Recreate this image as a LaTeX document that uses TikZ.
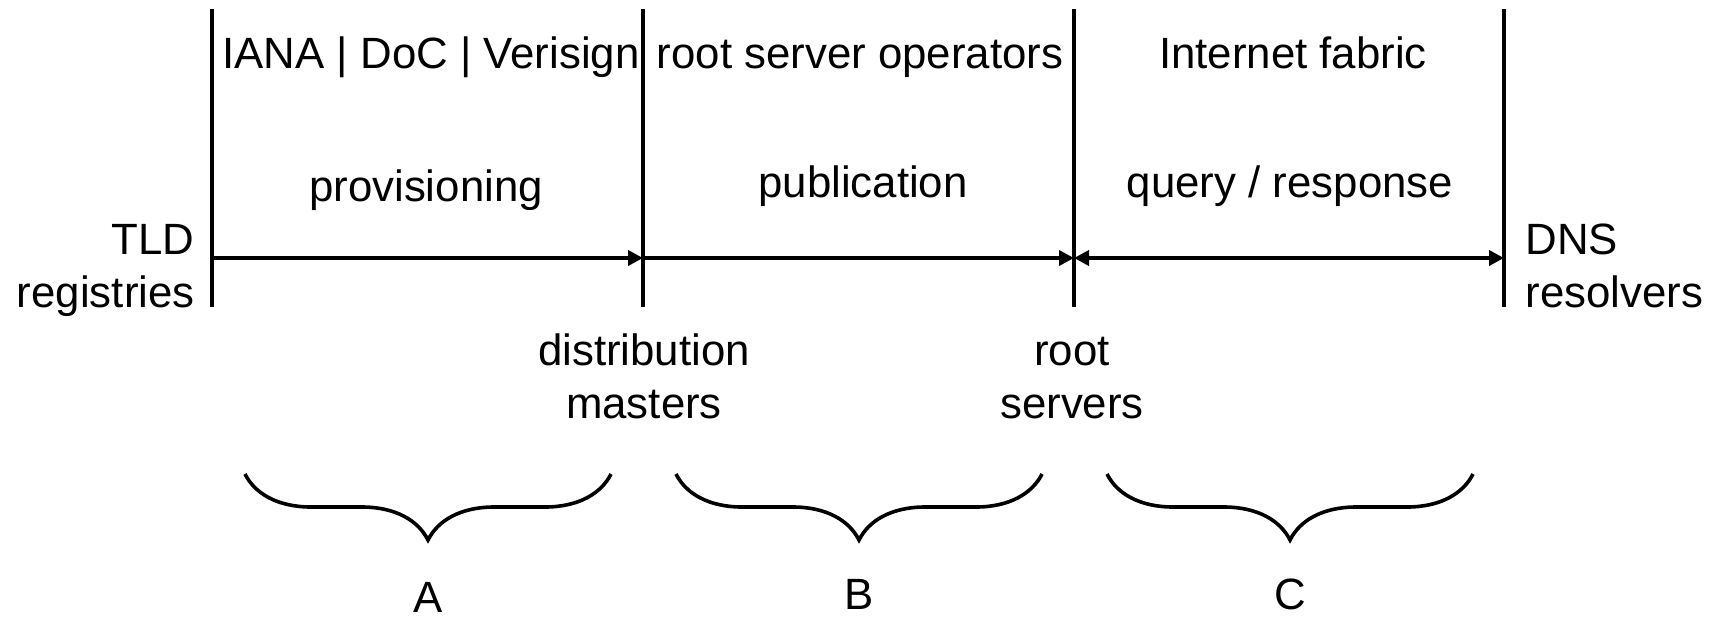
\documentclass[tikz,border=0pt]{standalone}
\usepackage{fontspec}
\setmainfont{Liberation Sans}
\usetikzlibrary{arrows.meta,decorations.pathreplacing}

\begin{document}
\begin{tikzpicture}[x=0.5pt,y=-0.5pt,
    >={Triangle[length=7.5pt,width=7.5pt]},
    lbl/.style={font=\fontsize{21.9}{26.3}\selectfont,inner sep=0pt,anchor=base},
    stage/.style={line width=1.8pt},
    flow/.style={line width=1.8pt},
    bracket/.style={line width=1.8pt,decorate,decoration={brace,mirror,amplitude=33pt}}
  ]
  \useasboundingbox (0,0) rectangle (1719,618);
  \foreach \n/\x in {tld/212,dm/643,rs/1074,dns/1504} {
    \coordinate (\n-t) at (\x,9);
    \coordinate (\n-a) at (\x,258);
    \coordinate (\n-b) at (\x,307);
    \draw[stage] (\n-t) -- (\n-b);
  }
  \draw[flow,->] (tld-a) -- (dm-a);
  \draw[flow,->] (dm-a) -- (rs-a);
  \draw[flow,<->] (rs-a) -- (dns-a);

  \node[lbl] (who1) at (431,68) {IANA | DoC | Verisign};
  \node[lbl] (who2) at (860,68) {root server operators};
  \node[lbl] (who3) at (1293,68) {Internet fabric};
  \node[lbl] (what1) at (426,201) {provisioning};
  \node[lbl] (what2) at (863,197) {publication};
  \node[lbl] (what3) at (1290,197) {query / response};

  \node[lbl,anchor=base east,align=right] (tld) at (195,307) {TLD\\registries};
  \node[lbl,anchor=base west,align=left] (dns) at (1525,307) {DNS\\resolvers};
  \node[lbl,align=center] (dm) at (644,418) {distribution\\masters};
  \node[lbl,align=center] (rs) at (1072,418) {root\\servers};

  \foreach \n/\l/\r/\y in {A/245/611/612,B/676/1042/609,C/1107/1473/609} {
    \coordinate (\n-l) at (\l,474);
    \coordinate (\n-r) at (\r,474);
    \draw[bracket] (\n-l) -- (\n-r);
    \node[lbl] (\n) at ({(\l+\r)/2},\y) {\n};
  }
\end{tikzpicture}
\end{document}
